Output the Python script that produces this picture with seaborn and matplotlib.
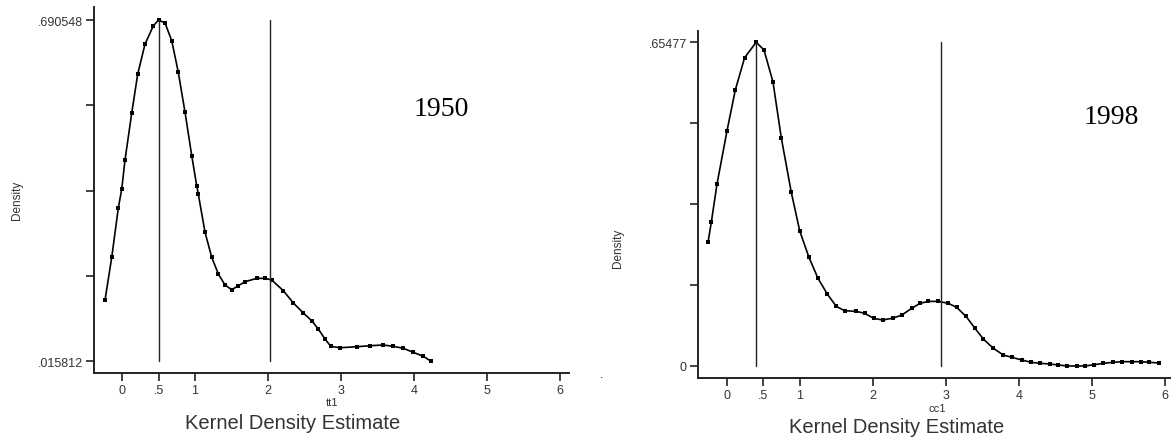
import numpy as np
import pandas as pd
import matplotlib
matplotlib.use("Agg")
import matplotlib.pyplot as plt
import seaborn as sns

# ---- data: kernel density estimates for the two years ----
x_1950 = [-0.233, -0.141, -0.051, -0.004, 0.041, 0.133, 0.215, 0.315, 0.429, 0.5,
          0.589, 0.681, 0.771, 0.863, 0.955, 1.023, 1.045, 1.137, 1.229, 1.319,
          1.411, 1.503, 1.593, 1.685, 1.845, 1.959, 2.051, 2.210, 2.347, 2.484,
          2.599, 2.689, 2.781, 2.859, 2.986, 3.215, 3.397, 3.579, 3.716, 3.853,
          3.990, 4.127, 4.229]
d_1950 = [0.1365, 0.221, 0.3185, 0.356, 0.414, 0.5065, 0.5837, 0.643, 0.679, 0.690548,
          0.6846, 0.6496, 0.587, 0.508, 0.422, 0.3627, 0.346, 0.2705, 0.221, 0.188,
          0.1662, 0.1569, 0.1648, 0.1727, 0.1794, 0.1794, 0.1761, 0.1549, 0.1306, 0.1108,
          0.0955, 0.0791, 0.0593, 0.0449, 0.0421, 0.0441, 0.0461, 0.0475, 0.0449, 0.0409,
          0.0330, 0.0251, 0.015812]

x_1998 = [-0.260, -0.215, -0.137, 0.0, 0.114, 0.242, 0.4, 0.507, 0.630, 0.744,
          0.881, 0.996, 1.123, 1.247, 1.374, 1.497, 1.612, 1.771, 1.886, 2.009,
          2.133, 2.279, 2.393, 2.530, 2.644, 2.758, 2.895, 3.032, 3.146, 3.274,
          3.397, 3.511, 3.648, 3.785, 3.900, 4.037, 4.164, 4.288, 4.425, 4.538,
          4.664, 4.790, 4.904, 5.032, 5.155, 5.292, 5.415, 5.544, 5.667, 5.785,
          5.922]
d_1998 = [0.25, 0.2904, 0.3678, 0.4755, 0.5584, 0.6239, 0.65477, 0.6392, 0.5745, 0.4614,
          0.351, 0.2734, 0.2197, 0.1772, 0.1455, 0.1206, 0.1118, 0.1105, 0.1065, 0.0964,
          0.093, 0.097, 0.103, 0.1166, 0.1267, 0.1307, 0.1307, 0.1267, 0.1186, 0.1004,
          0.0762, 0.0546, 0.0358, 0.0222, 0.0176, 0.0121, 0.0075, 0.0055, 0.004, 0.002,
          0.0, 0.0, 0.0, 0.0026, 0.0055, 0.0075, 0.0087, 0.0087, 0.0087, 0.0075,
          0.006]

# reference lines (modes) drawn across each panel
vlines_1950 = [0.5, 2.027]
vlines_1998 = [0.4, 2.932]

xtick_vals = [0, 0.5, 1, 2, 3, 4, 5, 6]
xtick_labels = ["0", ".5", "1", "2", "3", "4", "5", "6"]

ymin_1950, ymax_1950 = 0.015812, 0.690548
ylabels_1950 = [".015812", "", "", "", ".690548"]
ymin_1998, ymax_1998 = 0.0, 0.65477
ylabels_1998 = ["0", "", "", "", ".65477"]

sns.set_style("ticks")
plt.rcParams["font.family"] = ["Liberation Sans", "DejaVu Sans"]

fig = plt.figure(figsize=(11.72, 4.39), dpi=100)
W, H = 1172, 439


def axes_px(x0, x1, ytop, ybot):
    return fig.add_axes([x0 / W, 1 - ybot / H, (x1 - x0) / W, (ybot - ytop) / H])


ax1 = axes_px(94, 569, 8, 374)
ax2 = axes_px(698, 1170, 32, 379)

panels = [
    (ax1, x_1950, d_1950, vlines_1950, ymin_1950, ymax_1950, ylabels_1950,
     (-0.384, 6.123), (-0.0079, 0.7163)),
    (ax2, x_1998, d_1998, vlines_1998, ymin_1998, ymax_1998, ylabels_1998,
     (-0.397, 6.068), (-0.0243, 0.6776)),
]

for ax, xs, ds, vls, ylo, yhi, ylabs, xlim, ylim in panels:
    df = pd.DataFrame({"x": xs, "density": ds})
    sns.lineplot(data=df, x="x", y="density", ax=ax, color="black",
                 linewidth=1.2, marker="s", markersize=2.6,
                 markeredgewidth=0, sort=True)
    for v in vls:
        ax.plot([v, v], [ylo, yhi], color="#222222", linewidth=1.0)
    ax.set_xlim(*xlim)
    ax.set_ylim(*ylim)
    ax.set_xticks(xtick_vals)
    ax.set_xticklabels(xtick_labels)
    ax.set_yticks(np.linspace(ylo, yhi, 5))
    ax.set_yticklabels(ylabs)
    ax.set_xlabel("")
    ax.set_ylabel("")
    for side in ("top", "right"):
        ax.spines[side].set_visible(False)
    for side in ("left", "bottom"):
        ax.spines[side].set_linewidth(1.4)
        ax.spines[side].set_color("#222222")
    ax.tick_params(axis="both", direction="out", length=6, width=1.2,
                   color="#222222", labelcolor="#333333", labelsize=9, pad=2)
    ax.patch.set_alpha(0)

# axis titles, variable names and year captions
fig.text(17 / W, 1 - 200 / H, "Density", rotation=90, ha="center", va="center",
         fontsize=8.5, color="#333333")
fig.text(618 / W, 1 - 248 / H, "Density", rotation=90, ha="center", va="center",
         fontsize=8.5, color="#333333")
fig.text(332 / W, 1 - 403 / H, "tt1", ha="center", va="center", fontsize=8,
         color="#333333")
fig.text(937 / W, 1 - 409 / H, "cc1", ha="center", va="center", fontsize=8,
         color="#333333")
fig.text(293 / W, 1 - 424 / H, "Kernel Density Estimate", ha="center",
         va="center", fontsize=14.5, color="#333333")
fig.text(897 / W, 1 - 428 / H, "Kernel Density Estimate", ha="center",
         va="center", fontsize=14.5, color="#333333")
fig.text(441 / W, 1 - 110 / H, "1950", ha="center", va="center", fontsize=20,
         family=["Liberation Serif", "DejaVu Serif"], color="black")
fig.text(1111 / W, 1 - 118 / H, "1998", ha="center", va="center", fontsize=20,
         family=["Liberation Serif", "DejaVu Serif"], color="black")
fig.text(602 / W, 1 - 375 / H, ".", ha="center", va="center", fontsize=9,
         color="black")

fig.savefig("out.png", dpi=100)
